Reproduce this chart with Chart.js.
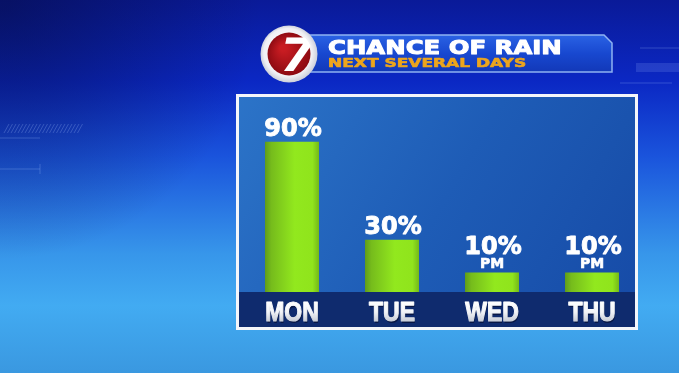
<!DOCTYPE html>
<html>
<head>
<meta charset="utf-8">
<script src="https://cdn.jsdelivr.net/npm/chart.js@4/dist/chart.umd.min.js"></script>
<style>
  html, body { margin: 0; padding: 0; background: #1a50d8; overflow: hidden; }
  #c { display: block; }
</style>
</head>
<body>
<canvas id="c" width="679" height="373"></canvas>
<script>
// ---- data ----
const days = ['MON', 'TUE', 'WED', 'THU'];
const rainChance = [90, 30, 10, 10];
const timeNotes = ['', '', 'PM', 'PM'];
const titleText = 'CHANCE OF RAIN';
const subtitleText = 'NEXT SEVERAL DAYS';
const logoText = '7';

const BOLD = '"DejaVu Sans", "Liberation Sans", sans-serif';
const LABEL_FONT = 'bold 28px "Liberation Sans", Arial, sans-serif';

function heavyText(ctx, text, x, y, fill, weight) {
  ctx.fillStyle = fill;
  ctx.strokeStyle = fill;
  ctx.lineWidth = weight;
  ctx.lineJoin = 'round';
  ctx.strokeText(text, x, y);
  ctx.fillText(text, x, y);
}

const backdrop = {
  id: 'backdrop',
  beforeDraw(chart) {
    const ctx = chart.ctx, W = chart.width, H = chart.height, ca = chart.chartArea;
    ctx.save();
    // background
    let g = ctx.createLinearGradient(0, 0, 0, H);
    g.addColorStop(0, '#0a1a98');
    g.addColorStop(0.22, '#0b28c4');
    g.addColorStop(0.42, '#1a54dc');
    g.addColorStop(0.68, '#3796ea');
    g.addColorStop(0.82, '#42abf2');
    g.addColorStop(1, '#3a98e0');
    ctx.fillStyle = g;
    ctx.fillRect(0, 0, W, H);
    let r = ctx.createRadialGradient(0, 0, 10, 0, 0, 260);
    r.addColorStop(0, 'rgba(5,10,60,0.55)');
    r.addColorStop(1, 'rgba(5,10,60,0)');
    ctx.fillStyle = r;
    ctx.fillRect(0, 0, W, H);
    // faint decor
    ctx.strokeStyle = 'rgba(170,200,255,0.25)';
    ctx.lineWidth = 1;
    ctx.beginPath();
    for (let i = 0; i < 22; i++) { ctx.moveTo(4 + i * 3.5, 133); ctx.lineTo(9 + i * 3.5, 124); }
    ctx.moveTo(0, 169); ctx.lineTo(40, 169); ctx.moveTo(40, 164); ctx.lineTo(40, 174);
    ctx.moveTo(0, 138); ctx.lineTo(40, 138);
    ctx.moveTo(640, 48); ctx.lineTo(679, 48);
    ctx.moveTo(620, 83); ctx.lineTo(672, 83);
    ctx.stroke();
    ctx.fillStyle = 'rgba(150,180,255,0.18)';
    ctx.fillRect(636, 63, 43, 9);

    // banner
    ctx.beginPath();
    ctx.moveTo(300, 35); ctx.lineTo(604, 35); ctx.lineTo(612, 43);
    ctx.lineTo(612, 72); ctx.lineTo(300, 72); ctx.closePath();
    g = ctx.createLinearGradient(0, 35, 0, 72);
    g.addColorStop(0, '#2a62e4'); g.addColorStop(0.5, '#1848d0'); g.addColorStop(1, '#1238b8');
    ctx.fillStyle = g; ctx.fill();
    ctx.strokeStyle = '#8fb2f2'; ctx.lineWidth = 1.5; ctx.stroke();

    // logo
    const cx = 289, cy = 54;
    g = ctx.createRadialGradient(cx - 6, cy - 8, 4, cx, cy, 29);
    g.addColorStop(0, '#ffffff'); g.addColorStop(0.8, '#f0f0f4'); g.addColorStop(1, '#c8ccd8');
    ctx.fillStyle = g;
    ctx.beginPath(); ctx.arc(cx, cy, 28.5, 0, Math.PI * 2); ctx.fill();
    g = ctx.createRadialGradient(cx - 6, cy - 6, 3, cx, cy, 22);
    g.addColorStop(0, '#c81c22'); g.addColorStop(1, '#8c0a12');
    ctx.fillStyle = g;
    ctx.beginPath(); ctx.arc(cx, cy, 21.5, 0, Math.PI * 2); ctx.fill();
    ctx.save();
    ctx.beginPath(); ctx.arc(cx, cy, 23, 0, Math.PI * 2); ctx.clip();
    ctx.translate(cx + 5, cy + 17);
    ctx.transform(1.1, 0, -0.2, 1, 0, 0);
    ctx.font = 'bold 46px ' + BOLD;
    ctx.fillStyle = '#ffffff';
    ctx.textAlign = 'center'; ctx.textBaseline = 'alphabetic';
    ctx.fillText(logoText, 0, 0);
    ctx.restore();

    // titles
    ctx.textAlign = 'left'; ctx.textBaseline = 'alphabetic';
    ctx.font = 'bold 20px ' + BOLD;
    let w = ctx.measureText(titleText).width;
    ctx.save(); ctx.translate(328, 53.5); ctx.scale(235 / (w + 1), 1);
    heavyText(ctx, titleText, 0, 0, '#ffffff', 1); ctx.restore();
    ctx.font = 'bold 12px ' + BOLD;
    w = ctx.measureText(subtitleText).width;
    ctx.save(); ctx.translate(328, 67); ctx.scale(199 / (w + 0.6), 1);
    heavyText(ctx, subtitleText, 0, 0, '#eda51c', 0.6); ctx.restore();

    // panel
    const pl = ca.left - 6, pr = ca.right - 4, pt = ca.top - 2, pb = ca.bottom + 38;
    ctx.fillStyle = '#f4f6fa';
    ctx.fillRect(pl, pt, pr - pl, pb - pt);
    g = ctx.createLinearGradient(pl, pt, pr, pb);
    g.addColorStop(0, '#2c74c8'); g.addColorStop(0.5, '#1e5cb6'); g.addColorStop(1, '#164aa6');
    ctx.fillStyle = g;
    ctx.fillRect(pl + 3, pt + 3, pr - pl - 6, pb - pt - 6);
    ctx.fillStyle = '#0f2b6e';
    ctx.fillRect(pl + 3, ca.bottom, pr - pl - 6, pb - 3 - ca.bottom);
    ctx.restore();
  }
};

const barLabels = {
  id: 'barLabels',
  afterDatasetsDraw(chart) {
    const ctx = chart.ctx;
    const meta = chart.getDatasetMeta(0);
    const xs = chart.scales.x, ca = chart.chartArea;
    ctx.save();
    ctx.textAlign = 'center';
    ctx.textBaseline = 'alphabetic';
    // category labels (condensed, in the dark band)
    xs.getLabels().forEach((lab, i) => {
      const x = xs.getPixelForTick(i);
      const by = ca.bottom + 29;
      ctx.save();
      ctx.translate(x, by);
      ctx.scale(0.82, 1);
      ctx.font = LABEL_FONT;
      ctx.fillStyle = 'rgba(0,0,20,0.45)';
      ctx.fillText(lab, 1, 1.5);
      const g = ctx.createLinearGradient(0, -20, 0, 0);
      g.addColorStop(0, '#ffffff'); g.addColorStop(0.55, '#f2f4f8'); g.addColorStop(1, '#c9ced8');
      heavyText(ctx, lab, 0, 0, g, 1.2);
      ctx.restore();
    });
    // value labels
    meta.data.forEach((el, i) => {
      const note = timeNotes[i];
      let y = el.y - 6;
      if (note) {
        ctx.font = 'bold 14px ' + BOLD;
        heavyText(ctx, note, el.x, el.y - 4, '#ffffff', 0.6);
        y = el.y - 18;
      }
      ctx.font = 'bold 24px ' + BOLD;
      heavyText(ctx, rainChance[i] + '%', el.x + 1, y, '#ffffff', 0.9);
    });
    ctx.restore();
  }
};

function barFill(c) {
  const chart = c.chart;
  if (!chart.chartArea || !chart.scales.x) return '#8ee41c';
  const x = chart.scales.x.getPixelForValue(c.dataIndex);
  const g = chart.ctx.createLinearGradient(x - 27, 0, x + 27, 0);
  g.addColorStop(0, '#5f9c1a');
  g.addColorStop(0.12, '#76bc1c');
  g.addColorStop(0.55, '#92e81e');
  g.addColorStop(0.88, '#90e41c');
  g.addColorStop(1, '#74b81a');
  return g;
}

new Chart(document.getElementById('c'), {
  type: 'bar',
  data: {
    labels: days,
    datasets: [{
      data: rainChance,
      base: -2,
      backgroundColor: barFill,
      borderWidth: 0,
      categoryPercentage: 0.9,
      barPercentage: 0.6
    }]
  },
  options: {
    responsive: false,
    animation: false,
    layout: { padding: { left: 242, right: 37, top: 96, bottom: 46 } },
    plugins: { legend: { display: false }, tooltip: { enabled: false }, title: { display: false } },
    scales: {
      y: { display: false, min: -2, max: 118 },
      x: {
        grid: { display: false, drawTicks: false },
        border: { display: false },
        ticks: { display: false },
        afterFit(scale) { scale.height = 35; }
      }
    }
  },
  plugins: [backdrop, barLabels]
});
</script>
</body>
</html>
